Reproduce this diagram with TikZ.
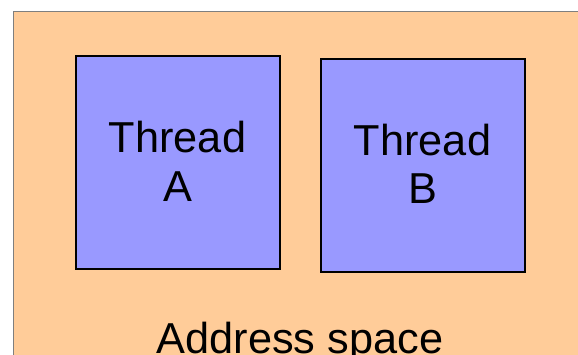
\documentclass[tikz,border=0pt]{standalone}
\usepackage{fontspec}
\setmainfont{Liberation Sans}
\definecolor{spacefill}{HTML}{FFCC99}
\definecolor{threadfill}{HTML}{9999FF}
\definecolor{spaceline}{HTML}{7F7F7F}
\begin{document}
\begin{tikzpicture}[x=1pt,y=-1pt,
  threadbox/.style={draw=black, line width=1.1pt, fill=threadfill,
    minimum width=204pt, minimum height=213pt, inner sep=0pt},
  lbl/.style={font=\fontsize{43.3}{49}\selectfont, inner sep=0pt, anchor=base, text=black}]
  \useasboundingbox (0,0) rectangle (578,355);
  \clip (0,0) rectangle (578,355);
  % address space
  \draw[draw=spaceline, line width=1.5pt, fill=spacefill] (13.5,11.5) rectangle (600,380);
  % threads
  \node[threadbox] (ta) at (178,162.5) {};
  \node[threadbox] (tb) at (423,165.5) {};
  \node[lbl] (ta1) at (177.5,153) {Thread};
  \node[lbl] (ta2) at (177.5,202) {A};
  \node[lbl] (tb1) at (422.5,156) {Thread};
  \node[lbl] (tb2) at (422.5,204) {B};
  \node[lbl] (as) at (300,353) {Address space};
\end{tikzpicture}
\end{document}
